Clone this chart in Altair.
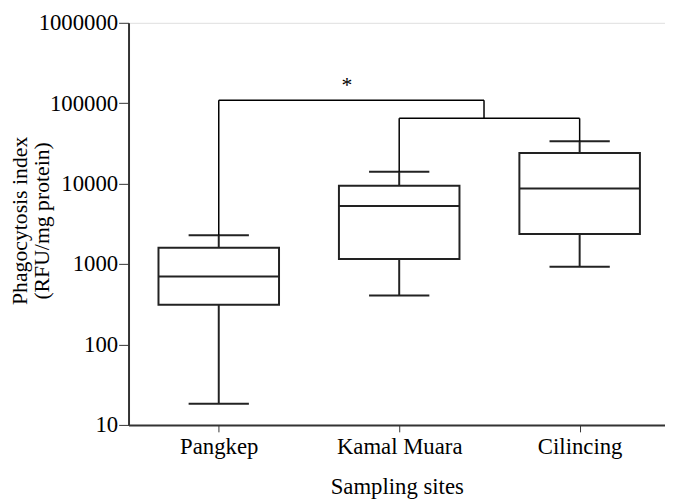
import altair as alt
import pandas as pd

# ---- data ----
sites = ["Pangkep", "Kamal Muara", "Cilincing"]
site_pos = [1, 2, 3]
whisker_low = [18.3, 407, 925]
q1 = [313, 1159, 2370]
median = [702, 5290, 8710]
q3 = [1595, 9400, 24100]
whisker_high = [2285, 14090, 33570]

# significance brackets
bracket_x1 = [1, 2]
bracket_x2 = [2.47, 3]
bracket_y = [109000, 64900]
bracket_leg1 = [2285, 14090]
bracket_leg2 = [64900, 33570]
star_x = [1.71]
star_y = [183000]
star_text = ["*"]

FONT = "Liberation Serif"
FS = 23
INK = "#222222"
AX = "#333333"

box_df = pd.DataFrame({
    "site": sites, "pos": site_pos, "lo": whisker_low, "q1": q1,
    "med": median, "q3": q3, "hi": whisker_high,
})
br_df = pd.DataFrame({"x1": bracket_x1, "x2": bracket_x2, "y": bracket_y,
                      "l1": bracket_leg1, "l2": bracket_leg2})
star_df = pd.DataFrame({"x": star_x, "y": star_y, "t": star_text})

label_expr = "[" + ",".join("'" + s + "'" for s in sites) + "][datum.value - 1]"

xscale = alt.Scale(domain=[0.5, 3.473], nice=False, zero=False)
yscale = alt.Scale(type="log", domain=[10, 1000000], nice=False)

xaxis = alt.Axis(values=site_pos, labelExpr=label_expr, title="Sampling sites",
                 grid=False, tickSize=7, tickWidth=1, tickColor=AX,
                 domainColor=AX, domainWidth=2, labelPadding=4,
                 labelFont=FONT, labelFontSize=FS, labelColor="black",
                 labelFlush=False,
                 titleFont=FONT, titleFontSize=FS, titleFontWeight="normal",
                 titleColor="black", titleY=51, titleBaseline="top")
yaxis = alt.Axis(values=[10, 100, 1000, 10000, 100000, 1000000], format="d",
                 title=["Phagocytosis index", "(RFU/mg protein)"],
                 grid=False, tickSize=10, tickWidth=1, tickColor=AX,
                 domainColor=AX, domainWidth=2, labelPadding=1,
                 labelFont=FONT, labelFontSize=FS, labelColor="black",
                 titleFont=FONT, titleFontSize=22, titleFontWeight="normal",
                 titleColor="black", titleX=-103, titleY=200,
                 titleBaseline="alphabetic", titleAlign="center", titleLineHeight=22)

def X(f):
    return alt.X(f, type="quantitative", scale=xscale, axis=xaxis)

def Y(f):
    return alt.Y(f, type="quantitative", scale=yscale, axis=yaxis)

base = alt.Chart(box_df).transform_calculate(
    xl="datum.pos - 0.334", xr="datum.pos + 0.334",
    cl="datum.pos - 0.167", cr="datum.pos + 0.167",
)

whisk_up = base.mark_rule(color=INK, strokeWidth=2).encode(x=X("pos"), y=Y("q3"), y2="hi")
whisk_dn = base.mark_rule(color=INK, strokeWidth=2).encode(x=X("pos"), y=Y("lo"), y2="q1")
cap_up = base.mark_rule(color=INK, strokeWidth=2).encode(x=X("cl"), x2="cr", y=Y("hi"))
cap_dn = base.mark_rule(color=INK, strokeWidth=2).encode(x=X("cl"), x2="cr", y=Y("lo"))
box = base.mark_rect(fill="white", stroke=INK, strokeWidth=2).encode(
    x=X("xl"), x2="xr", y=Y("q1"), y2="q3")
med = base.mark_rule(color=INK, strokeWidth=2).encode(x=X("xl"), x2="xr", y=Y("med"))

br = alt.Chart(br_df)
br_h = br.mark_rule(color="black", strokeWidth=1.5).encode(x=X("x1"), x2="x2", y=Y("y"))
br_l = br.mark_rule(color="black", strokeWidth=1.5).encode(x=X("x1"), y=Y("l1"), y2="y")
br_r = br.mark_rule(color="black", strokeWidth=1.5).encode(x=X("x2"), y=Y("l2"), y2="y")

star = alt.Chart(star_df).mark_text(font=FONT, fontSize=22, color="black",
                                    baseline="alphabetic", dy=10).encode(
    x=X("x"), y=Y("y"), text="t")

chart = alt.layer(whisk_up, whisk_dn, cap_up, cap_dn, box, med,
                  br_h, br_l, br_r, star).properties(
    width=543, height=407,
    autosize=alt.AutoSizeParams(type="none"),
    padding={"left": 122, "top": 12, "right": 0, "bottom": 73},
).configure_view(stroke=None).configure(background="white")

chart.save("out.html", embed_options={"renderer": "svg", "actions": False})
